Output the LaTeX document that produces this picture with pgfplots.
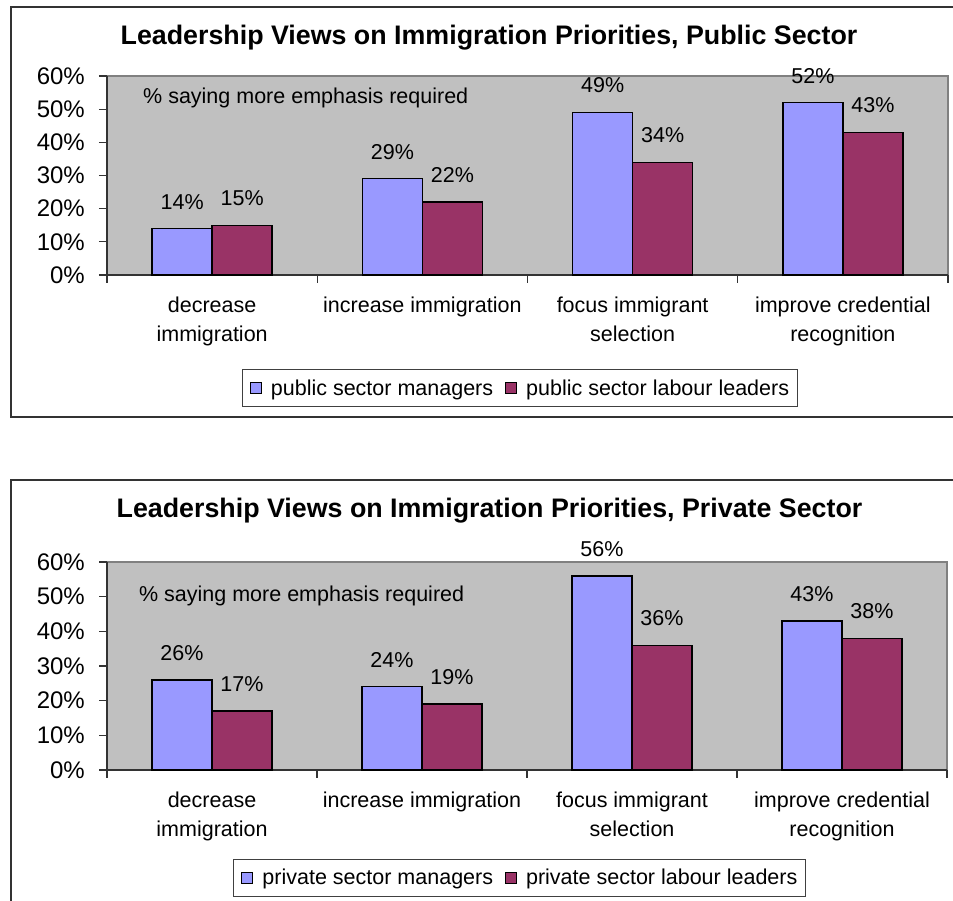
\documentclass[border=0pt]{standalone}
\usepackage{fontspec}
\setmainfont{Liberation Sans}
\usepackage{pgfplots}
\pgfplotsset{compat=1.18}

\definecolor{mgr}{HTML}{9999FF}
\definecolor{lab}{HTML}{993366}
\definecolor{plotbg}{HTML}{C0C0C0}
\definecolor{plotframe}{HTML}{808080}
\definecolor{edge}{HTML}{333333}

\newcommand{\txt}{\fontsize{21.5}{29}\selectfont}

\pgfplotsset{
  leaderbars/.style={
    scale only axis,
    anchor=south west,
    xmin=-0.5, xmax=3.5,
    ymin=0, ymax=60,
    ybar=0pt,
    bar width=60pt,
    clip=false,
    axis background/.style={fill=plotbg, draw=plotframe, line width=1.3pt},
    axis x line*=bottom,
    axis y line*=left,
    axis line style={-, draw=edge, line width=1.3pt},
    tick align=outside,
    major tick length=8pt,
    major tick style={draw=edge, line width=1.2pt},
    ytick={0,10,...,60},
    yticklabel={\pgfmathprintnumber{\tick}\%},
    yticklabel style={font=\fontsize{24}{28}\selectfont, inner sep=0pt, xshift=-14pt},
    xtick={-0.5,0.5,1.5,2.5,3.5},
    x tick label as interval,
    xticklabels={{decrease\\immigration},{increase immigration},{focus immigrant\\selection},{improve credential\\recognition}},
    xticklabel style={font=\txt, align=center, inner sep=0pt, anchor=north, yshift=-14pt},
    /pgf/number format/assume math mode=true,
    nodes near coords={\pgfmathprintnumber{\pgfplotspointmeta}\%},
    every node near coord/.append style={font=\txt, anchor=base, yshift=19.5pt, inner sep=0pt, text=black},
    legend columns=2,
    legend image code/.code={\draw[#1, draw=black, line width=1pt] (0pt,-5.5pt) rectangle (11pt,5.5pt);},
    legend style={anchor=center, draw=black!75, line width=0.8pt, fill=white,
      inner xsep=8pt, inner ysep=10pt, font=\txt, nodes={inner sep=0pt},
      /tikz/every odd column/.append style={column sep=9pt},
      /tikz/every even column/.append style={column sep=12pt}},
  },
  mgrbar/.style={fill=mgr, draw=black, line width=1.3pt},
  labbar/.style={fill=lab, draw=black, line width=1.3pt},
}

\begin{document}
\begin{tikzpicture}
\useasboundingbox (0pt,0pt) rectangle (953pt,901pt);
\clip (0pt,0pt) rectangle (953pt,901pt);

% public sector
\begin{axis}[leaderbars, at={(107pt,626pt)}, width=841pt, height=199pt,
  legend style={at={(0.4905,-0.568)}}]
\addplot[mgrbar] coordinates {(0,14) (1,29) (2,49) (3,52)};
\addlegendentry{public sector managers}
\addplot[labbar] coordinates {(0,15) (1,22) (2,34) (3,43)};
\addlegendentry{public sector labour leaders}
\node[anchor=base west, inner sep=0pt, font=\txt] at (rel axis cs:0.0428,0.864) {\% saying more emphasis required};
\end{axis}

% private sector
\begin{axis}[leaderbars, at={(107pt,131pt)}, width=840pt, height=208pt,
  legend style={at={(0.491,-0.517)}}]
\addplot[mgrbar] coordinates {(0,26) (1,24) (2,56) (3,43)};
\addlegendentry{private sector managers}
\addplot[labbar] coordinates {(0,17) (1,19) (2,36) (3,38)};
\addlegendentry{private sector labour leaders}
\node[anchor=base west, inner sep=0pt, font=\txt] at (rel axis cs:0.038,0.808) {\% saying more emphasis required};
\end{axis}

% chart frames and titles
\draw[edge, line width=1.4pt] (11pt,894pt) rectangle (970pt,484pt);
\draw[edge, line width=1.4pt] (11pt,421pt) rectangle (970pt,-20pt);
\node[anchor=base, inner sep=0pt, font=\fontsize{26.8}{30}\selectfont\bfseries] at (489pt,856pt)
  {Leadership Views on Immigration Priorities, Public Sector};
\node[anchor=base, inner sep=0pt, font=\fontsize{26.8}{30}\selectfont\bfseries] at (489.5pt,383pt)
  {Leadership Views on Immigration Priorities, Private Sector};
\end{tikzpicture}
\end{document}
